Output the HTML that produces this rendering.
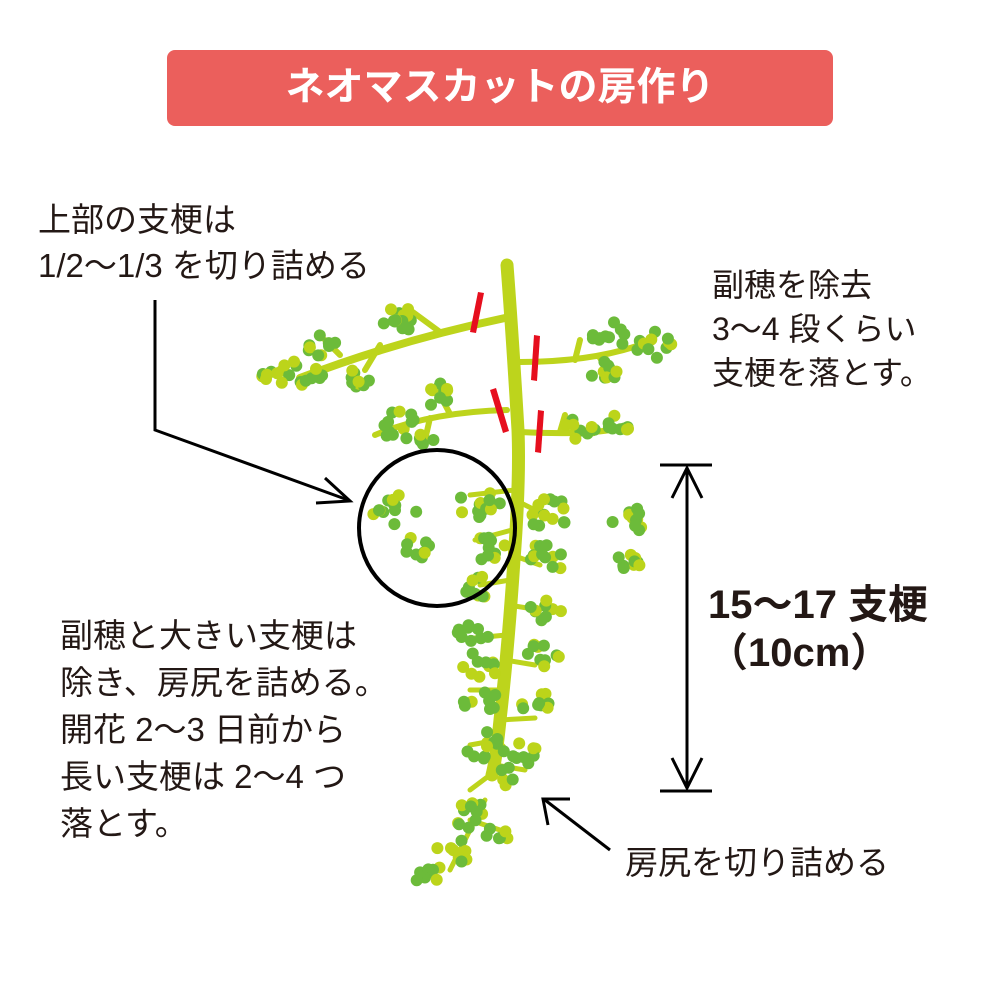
<!DOCTYPE html>
<html><head><meta charset="utf-8"><style>
body{margin:0;background:#fff;width:1000px;height:1000px;overflow:hidden;font-family:"Liberation Sans","Noto Sans CJK JP",sans-serif}
.t{position:absolute;color:#231815;white-space:nowrap}
</style></head><body>
<div style="position:absolute;left:167px;top:50px;width:666px;height:76px;background:#eb5f5c;border-radius:8px;color:#fff;font-weight:bold;font-size:39px;text-align:center;line-height:76px">ネオマスカットの房作り</div>
<svg id="s" width="1000" height="1000" style="position:absolute;left:0;top:0">
<g stroke="#bdd41c" stroke-linecap="round" fill="none">
<path d="M507 265 Q512 330 518 430 Q520 480 514 560 Q508 650 500 720 Q496 760 492 775" stroke-width="13"/>
<path d="M505 318 Q400 340 300 378" stroke-width="8"/>
<path d="M440 332 L410 310 M380 345 L365 370 M340 355 L325 340 M520 362 Q590 362 640 345 M575 360 L580 340 M600 358 L612 375 M507 410 Q430 412 375 435 M450 414 L440 395 M430 418 L425 440 M520 432 Q580 435 610 430 M560 432 L565 415" stroke-width="6"/>
<path d="M515 500 L545 515 M512 530 L475 540 M512 555 L540 565 M510 580 L480 585 M508 605 L540 610 M506 635 L475 638 M505 660 L535 665 M503 690 L470 690 M500 720 L535 718 M498 740 L470 745 M495 765 L525 770 M490 775 L470 790 M485 800 L450 870 M470 820 L500 830 M515 490 L470 495" stroke-width="5"/>
</g>
<g fill="#e60f1e">
<path d="M478 292 l6 1 l-8 40 l-6 -1z"/>
<path d="M534 335 l6 1 l-3 45 l-6 -1z"/>
<path d="M490 390 l6 -2 l13 43 l-6 2z"/>
<path d="M538 410 l6 1 l-3 42 l-6 -1z"/>
</g>
<g id="b"></g>
<circle cx="437" cy="528" r="78" fill="none" stroke="#000" stroke-width="4"/>
<g stroke="#000" stroke-width="3" fill="none">
<path d="M155 300 V430 L348 500"/>
<path d="M325 478 L350 501 L316 503"/>
<path d="M610 850 L545 800"/>
<path d="M548 825 L543 799 L570 799"/>
<path d="M687 468 V788 M660 465 H712 M660 791 H712"/>
<path d="M672 498 L687 468 L702 498 M672 758 L687 788 L702 758"/>
</g>
</svg>
<div class="t" style="left:38px;top:197px;font-size:33px;line-height:46px">上部の支梗は<br>1/2〜1/3 を切り詰める</div>
<div class="t" style="left:712px;top:263px;font-size:32px;line-height:44px">副穂を除去<br>3〜4 段くらい<br>支梗を落とす。</div>
<div class="t" style="left:60px;top:612px;font-size:33px;line-height:47px">副穂と大きい支梗は<br>除き、房尻を詰める。<br>開花 2〜3 日前から<br>長い支梗は 2〜4 つ<br>落とす。</div>
<div class="t" style="left:708px;top:581px;font-size:40px;font-weight:bold;line-height:48px">15〜17 支梗<br>（10cm）</div>
<div class="t" style="left:625px;top:836px;font-size:33px">房尻を切り詰める</div>
<script>
var cl=[[300,370,24,12],[270,378,14,7],[320,345,16,9],[400,320,18,14],[355,380,16,9],[610,335,18,10],[655,345,20,11],[605,370,16,10],[395,425,22,12],[440,395,16,10],[425,440,12,5],[580,430,16,9],[620,425,16,9],[395,510,24,12],[415,548,16,9],[478,503,22,13],[488,548,18,11],[478,590,18,9],[550,515,22,14],[627,520,20,11],[630,562,16,9],[545,560,22,12],[475,630,18,9],[545,610,18,9],[480,665,20,10],[545,655,18,10],[480,700,18,9],[540,705,18,9],[485,745,20,11],[520,755,18,9],[505,775,14,5],[470,815,18,11],[455,850,18,10],[432,878,16,8],[495,835,14,6]];
var s=7,h='';function r(){s=(s*9301+49297)%233280;return s/233280;}
cl.forEach(function(c){for(var i=0;i<c[3];i++){var a=r()*6.28,d=Math.sqrt(r())*c[2];h+='<circle cx="'+(c[0]+Math.cos(a)*d).toFixed(1)+'" cy="'+(c[1]+Math.sin(a)*d*0.75).toFixed(1)+'" r="6" fill="'+(r()<0.3?'#bcd41a':'#6cbb3a')+'"/>';}});
document.getElementById('b').innerHTML=h;
</script>
</body></html>
